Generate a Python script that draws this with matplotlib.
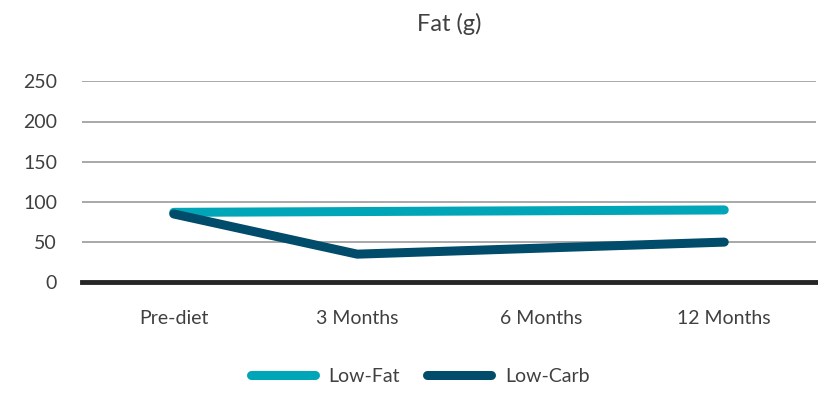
import matplotlib.pyplot as plt
import numpy as np

categories = ['Pre-diet', '3 Months', '6 Months', '12 Months']
low_fat = [87, 88, np.nan, 90]
low_carb = [85, 35, np.nan, 50]
yticks = [0, 50, 100, 150, 200, 250]

plt.rcParams['font.family'] = ['Lato', 'DejaVu Sans']
text_color = '#404040'

fig = plt.figure(figsize=(8.18, 3.93), dpi=100)
ax = fig.add_axes([82/818, 1 - 282.3/393, 734/818, 201/393])

x = np.arange(len(categories))


def plot_series(vals, color, label):
    vals = np.array(vals, dtype=float)
    ok = ~np.isnan(vals)
    ax.plot(x[ok], vals[ok], color=color, lw=6.5, solid_capstyle='round',
            solid_joinstyle='round', label=label, zorder=3)


plot_series(low_fat, '#00A6B7', 'Low-Fat')
plot_series(low_carb, '#004C6A', 'Low-Carb')

ax.set_xlim(-0.5, len(categories) - 0.5)
ax.set_ylim(0, 250)
ax.set_yticks(yticks)
ax.set_xticks(x)
ax.set_xticklabels(categories)
for y in yticks[1:]:
    ax.axhline(y, color='#9a9a9a', lw=1.2, zorder=1)
ax.axhline(0, color='#262626', lw=3.5, zorder=2, clip_on=False)

for s in ax.spines.values():
    s.set_visible(False)
ax.tick_params(axis='both', length=0, labelsize=14, colors=text_color)
ax.tick_params(axis='y', pad=18)
ax.tick_params(axis='x', pad=20)

ax.set_title('Fat (g)', fontsize=17, color=text_color, pad=36)

fig.legend(loc='center', bbox_to_anchor=(420/818, 1 - 376/393), ncol=2,
           frameon=False, fontsize=14, handlelength=3.3, columnspacing=1.4,
           handletextpad=0.7, labelcolor=text_color)

fig.savefig('out.png', dpi=100)
